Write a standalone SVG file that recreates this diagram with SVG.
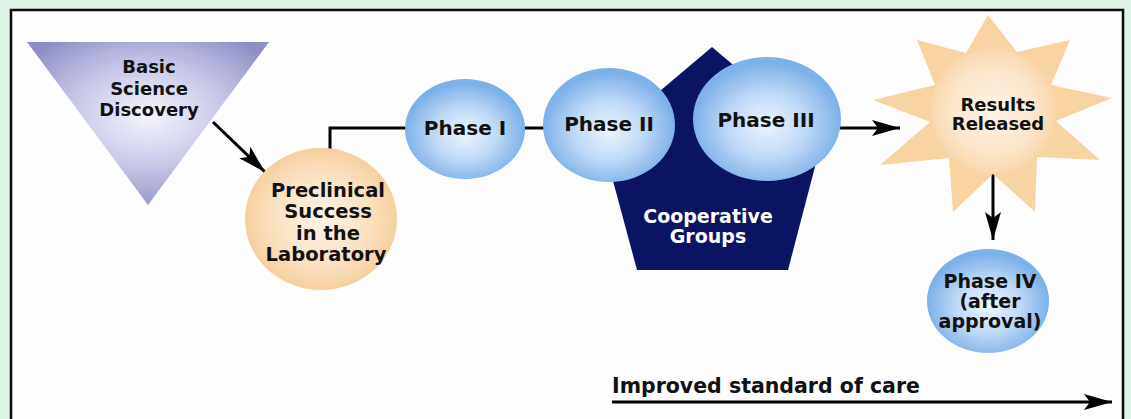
<svg xmlns="http://www.w3.org/2000/svg" width="1131" height="419" viewBox="0 0 1131 419">
  <defs>
    <radialGradient id="gTri" cx="0.5" cy="0.45" r="0.6">
      <stop offset="0" stop-color="#f6f6fd"/>
      <stop offset="0.55" stop-color="#c4c4e6"/>
      <stop offset="1" stop-color="#8e8ec6"/>
    </radialGradient>
    <radialGradient id="gPeach" cx="0.5" cy="0.5" r="0.5">
      <stop offset="0" stop-color="#fdf3e6"/>
      <stop offset="0.6" stop-color="#fae3c4"/>
      <stop offset="1" stop-color="#f5d09e"/>
    </radialGradient>
    <radialGradient id="gSun" cx="0.5" cy="0.5" r="0.5">
      <stop offset="0" stop-color="#fdf3e6"/>
      <stop offset="0.7" stop-color="#fbe6cb"/>
      <stop offset="1" stop-color="#f8d7ab"/>
    </radialGradient>
    <radialGradient id="gBlue" cx="0.5" cy="0.55" r="0.5">
      <stop offset="0" stop-color="#eef5fd"/>
      <stop offset="0.55" stop-color="#bcd7f5"/>
      <stop offset="1" stop-color="#7cb1ea"/>
    </radialGradient>
    <marker id="head" markerUnits="userSpaceOnUse" markerWidth="32" markerHeight="20" refX="28" refY="9" orient="auto" viewBox="0 0 32 20">
      <path d="M28,9 L0,1 L6,9 L0,17 Z" fill="#000"/>
    </marker>
    <style>
      .lbl { font-family: "DejaVu Sans", "Liberation Sans", sans-serif; font-weight: bold; fill: #111; text-anchor: middle; }
      .wht { fill: #ffffff; }
      .conn { fill: none; stroke: #000; stroke-width: 3; }
    </style>
  </defs>

  <!-- page background and frame -->
  <rect x="0" y="0" width="1131" height="419" fill="#e0f4e8"/>
  <rect x="11" y="10" width="1112" height="420" fill="#fdfdfd" stroke="#0a0a0a" stroke-width="2.5"/>

  <!-- connectors -->
  <g id="connectors">
    <line class="conn" x1="213" y1="122" x2="265" y2="172" marker-end="url(#head)"/>
    <polyline class="conn" points="330,150 330,128 406,128"/>
    <line class="conn" x1="524" y1="128" x2="545" y2="128"/>
    <line class="conn" x1="840" y1="128" x2="900" y2="128" marker-end="url(#head)"/>
    <line class="conn" x1="993" y1="170" x2="993" y2="240" marker-end="url(#head)"/>
    <line class="conn" x1="612" y1="402" x2="1112" y2="402" marker-end="url(#head)"/>
  </g>

  <g id="basic-science">
    <polygon points="27,42 269,42 148,205" fill="url(#gTri)"/>
    <text class="lbl" font-size="18" x="149" y="73">Basic</text>
    <text class="lbl" font-size="18" x="149" y="95">Science</text>
    <text class="lbl" font-size="18" x="149" y="116">Discovery</text>
  </g>

  <g id="preclinical">
    <ellipse cx="321" cy="219" rx="76" ry="71" fill="url(#gPeach)"/>
    <text class="lbl" font-size="19.5" x="328" y="197">Preclinical</text>
    <text class="lbl" font-size="19.5" x="328" y="218">Success</text>
    <text class="lbl" font-size="19.5" x="328" y="240">in the</text>
    <text class="lbl" font-size="19.5" x="326" y="261">Laboratory</text>
  </g>

  <g id="cooperative-groups">
    <polygon points="712,47 822,140 788,270 637,270 602,140" fill="#0b1462"/>
    <text class="lbl wht" font-size="19" x="708" y="223">Cooperative</text>
    <text class="lbl wht" font-size="19" x="708" y="243">Groups</text>
  </g>

  <g id="phase-1">
    <ellipse cx="465" cy="129" rx="60" ry="50" fill="url(#gBlue)"/>
    <text class="lbl" font-size="20" x="465" y="135">Phase I</text>
  </g>

  <g id="phase-2">
    <ellipse cx="609" cy="125" rx="66" ry="57" fill="url(#gBlue)"/>
    <text class="lbl" font-size="20" x="609" y="131">Phase II</text>
  </g>

  <g id="phase-3">
    <ellipse cx="767" cy="119" rx="74" ry="62" fill="url(#gBlue)"/>
    <text class="lbl" font-size="20" x="766" y="127">Phase III</text>
  </g>

  <g id="results-released">
    <polygon fill="#f8d4a2" points="988,15 1017,52 1070,40 1051,85 1112,98 1056,121 1100,160 1037,157 1035,212 993,174 953,212 949,158 880,165 930,122 873,100 935,85 917,40 966,53"/>
    <circle cx="993" cy="111" r="62" fill="url(#gSun)"/>
    <text class="lbl" font-size="18" x="998" y="111">Results</text>
    <text class="lbl" font-size="18" x="998" y="130">Released</text>
  </g>

  <g id="phase-4">
    <ellipse cx="988" cy="301" rx="61" ry="52" fill="url(#gBlue)"/>
    <text class="lbl" font-size="19" x="990" y="288">Phase IV</text>
    <text class="lbl" font-size="19" x="990" y="308">(after</text>
    <text class="lbl" font-size="19" x="990" y="328">approval)</text>
  </g>

  <g id="standard-of-care">
    <text class="lbl" font-size="20.5" x="612" y="393" style="text-anchor:start">Improved standard of care</text>
  </g>
</svg>
